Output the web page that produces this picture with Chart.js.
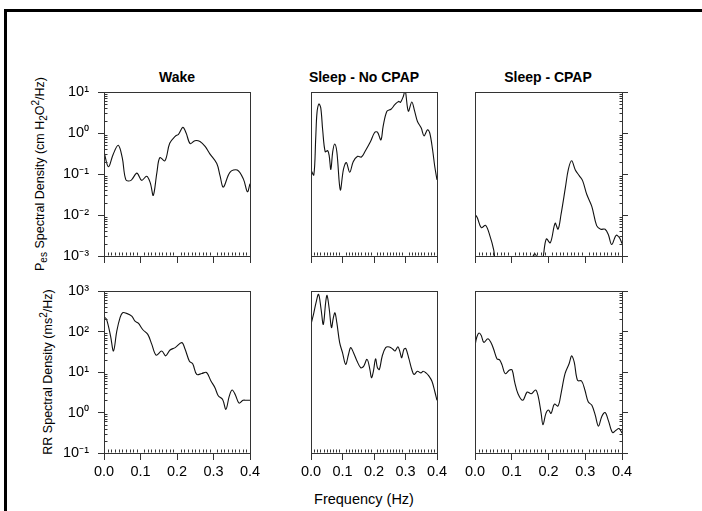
<!DOCTYPE html>
<html><head><meta charset="utf-8">
<script src="https://cdn.jsdelivr.net/npm/chart.js@4.4.1/dist/chart.umd.min.js"></script>
<style>
html,body{margin:0;padding:0;background:#fff;}
body{width:702px;height:511px;position:relative;overflow:hidden;font-family:"Liberation Sans",Arial,sans-serif;color:#000;}
.frame{position:absolute;left:4px;top:9px;width:760px;height:600px;border-top:3px solid #000;border-left:3px solid #000;}
canvas{position:absolute;}
.title{position:absolute;font-weight:bold;font-size:14px;text-align:center;width:220px;line-height:16px;white-space:nowrap;}
.ytitle{position:absolute;font-size:12.5px;white-space:nowrap;line-height:14px;transform:translate(-50%,-50%) rotate(-90deg);}
.ytitle sub{font-size:10px;vertical-align:-3px;line-height:0;}
.ytitle sup{font-size:10px;vertical-align:5px;line-height:0;}
.xtitle{position:absolute;font-size:14.5px;text-align:center;width:200px;line-height:16px;}
</style>
</head><body>
<div class="frame"></div>
<div class="title" style="left:67px;top:69px;">Wake</div>
<div class="title" style="left:254px;top:69px;">Sleep - No CPAP</div>
<div class="title" style="left:438px;top:69px;">Sleep - CPAP</div>
<div class="ytitle" style="left:40px;top:174px;">P<sub>es</sub> Spectral Density (cm H<sub>2</sub>O<sup>2</sup>/Hz)</div>
<div class="ytitle" style="left:48px;top:372px;">RR Spectral Density (ms<sup>2</sup>/Hz)</div>
<div class="xtitle" style="left:264px;top:491px;">Frequency (Hz)</div>
<script>
// ---- data ----
const xTickVals = [0, 0.1, 0.2, 0.3, 0.4];
const xTickLabels = ['0.0', '0.1', '0.2', '0.3', '0.4'];
const pesTickVals = [0.001, 0.01, 0.1, 1, 10];
const pesTickLabels = ['10\u207B\u00B3', '10\u207B\u00B2', '10\u207B\u00B9', '10\u2070', '10\u00B9'];
const rrTickVals = [0.1, 1, 10, 100, 1000];
const rrTickLabels = ['10\u207B\u00B9', '10\u2070', '10\u00B9', '10\u00B2', '10\u00B3'];

const wakePesFreq = [0, 0.012, 0.025, 0.039, 0.05, 0.06, 0.074, 0.09, 0.103, 0.117, 0.127, 0.135, 0.145, 0.153, 0.167, 0.18, 0.195, 0.204, 0.216, 0.225, 0.236, 0.249, 0.263, 0.277, 0.29, 0.309, 0.318, 0.327, 0.345, 0.365, 0.382, 0.393, 0.4];
const wakePesVal = [0.35, 0.15, 0.3, 0.5, 0.25, 0.072, 0.07, 0.105, 0.07, 0.088, 0.06, 0.03, 0.11, 0.25, 0.21, 0.56, 0.83, 0.93, 1.37, 1.0, 0.55, 0.65, 0.62, 0.47, 0.31, 0.18, 0.09, 0.048, 0.11, 0.125, 0.075, 0.037, 0.058];

const noCpapPesFreq = [0, 0.009, 0.015, 0.019, 0.025, 0.031, 0.037, 0.045, 0.053, 0.058, 0.063, 0.069, 0.075, 0.082, 0.093, 0.103, 0.112, 0.123, 0.134, 0.148, 0.16, 0.171, 0.189, 0.202, 0.211, 0.222, 0.229, 0.241, 0.254, 0.266, 0.278, 0.284, 0.293, 0.299, 0.309, 0.32, 0.329, 0.338, 0.35, 0.359, 0.37, 0.377, 0.386, 0.393, 0.4];
const noCpapPesVal = [0.125, 0.095, 0.75, 3.1, 5.1, 4.1, 1.2, 0.35, 0.37, 0.27, 0.13, 0.35, 0.54, 0.35, 0.041, 0.13, 0.19, 0.11, 0.2, 0.27, 0.26, 0.35, 0.62, 1.03, 1.05, 0.68, 1.45, 3.4, 3.8, 4.9, 5.9, 5.6, 7.8, 11, 3.4, 5.7, 3.4, 1.9, 1.32, 0.85, 1.2, 1.0, 0.39, 0.15, 0.072];

const cpapPesFreq = [0, 0.006, 0.017, 0.029, 0.041, 0.051, 0.06, 0.1, 0.14, 0.156, 0.1625, 0.169, 0.177, 0.185, 0.194, 0.205, 0.218, 0.226, 0.234, 0.246, 0.254, 0.263, 0.273, 0.284, 0.293, 0.304, 0.318, 0.331, 0.342, 0.354, 0.363, 0.372, 0.384, 0.393, 0.4];
const cpapPesVal = [0.0104, 0.0087, 0.0049, 0.0056, 0.003, 0.0014, 0.0005, 0.0003, 0.0005, 0.0009, 0.00115, 0.0009, 0.0005, 0.0009, 0.0026, 0.0021, 0.0063, 0.0045, 0.0102, 0.047, 0.13, 0.21, 0.125, 0.09, 0.068, 0.032, 0.016, 0.0055, 0.0045, 0.0045, 0.0033, 0.0019, 0.0032, 0.0028, 0.002];

const wakeRRFreq = [0, 0.007, 0.018, 0.026, 0.035, 0.044, 0.051, 0.062, 0.076, 0.085, 0.094, 0.106, 0.12, 0.131, 0.143, 0.158, 0.169, 0.181, 0.195, 0.213, 0.222, 0.234, 0.243, 0.254, 0.268, 0.281, 0.293, 0.304, 0.313, 0.325, 0.334, 0.343, 0.351, 0.36, 0.37, 0.381, 0.39, 0.4];
const wakeRRVal = [230, 200, 77, 33, 102, 220, 290, 280, 240, 180, 160, 112, 85, 48, 26, 33, 25, 35, 40, 53, 37, 18.5, 16, 8.7, 9.2, 9.7, 6, 4.1, 2.6, 2.1, 1.2, 2.5, 3.6, 2.7, 1.7, 2.0, 2.0, 2.0];

const noCpapRRFreq = [0, 0.009, 0.016, 0.024, 0.032, 0.039, 0.047, 0.051, 0.058, 0.065, 0.071, 0.076, 0.082, 0.091, 0.1, 0.11, 0.119, 0.126, 0.135, 0.146, 0.158, 0.167, 0.178, 0.187, 0.192, 0.198, 0.205, 0.211, 0.217, 0.226, 0.237, 0.249, 0.26, 0.267, 0.276, 0.283, 0.288, 0.295, 0.301, 0.311, 0.32, 0.327, 0.338, 0.349, 0.356, 0.365, 0.374, 0.384, 0.393, 0.4];
const noCpapRRVal = [150, 290, 515, 830, 355, 150, 560, 780, 355, 125, 220, 290, 165, 53, 30, 15.4, 27, 40, 30, 18.7, 12.7, 13.8, 20.5, 11.5, 7.2, 10.4, 21, 12.7, 11.5, 24.5, 40, 41.5, 36.5, 33, 42, 30, 22.5, 36.5, 38, 21, 11.5, 8.7, 10.4, 9.5, 10.4, 9.5, 8, 5.9, 3.3, 2.0];

const cpapRRFreq = [0, 0.005, 0.011, 0.017, 0.024, 0.035, 0.044, 0.051, 0.06, 0.067, 0.074, 0.082, 0.094, 0.101, 0.108, 0.117, 0.13, 0.142, 0.153, 0.165, 0.172, 0.18, 0.185, 0.193, 0.2, 0.207, 0.216, 0.226, 0.234, 0.245, 0.256, 0.263, 0.27, 0.279, 0.29, 0.299, 0.308, 0.318, 0.327, 0.336, 0.345, 0.354, 0.363, 0.374, 0.383, 0.392, 0.4];
const cpapRRVal = [45, 73, 92, 80, 54, 66, 52, 36, 21, 20, 14.6, 9.1, 11.2, 11.2, 5.6, 2.9, 2.0, 3.2, 2.9, 3.6, 2.5, 0.95, 0.5, 0.95, 1.15, 0.95, 1.6, 1.45, 2.9, 9.1, 16, 25, 17.5, 6.2, 6, 3.6, 1.85, 1.5, 0.87, 0.46, 0.8, 1.0, 0.63, 0.32, 0.36, 0.4, 0.31];

// ---- layout ----
Chart.defaults.font.family = '"Liberation Sans", Arial, sans-serif';
Chart.defaults.font.size = 14;
Chart.defaults.color = '#000';
const AXIS = '#333';
const ROWS = {top: {t: 92, b: 256}, bottom: {t: 291, b: 453}};
const COLS = {A: {l: 104, r: 250}, B: {l: 291, r: 437}, C: {l: 475, r: 622}};

function decorPlugin(ySide) {
  return {
    id: 'decor',
    afterDraw(chart) {
      const ctx = chart.ctx, ca = chart.chartArea;
      const xs = chart.scales.x, ys = chart.scales.y;
      const l = Math.round(ca.left) + 0.5, r = Math.round(ca.right) + 0.5;
      const t = Math.round(ca.top) + 0.5, b = Math.round(ca.bottom) + 0.5;
      ctx.save();
      ctx.strokeStyle = AXIS; ctx.lineWidth = 1;
      ctx.strokeRect(l, t, r - l, b - t);
      ctx.beginPath();
      for (let k = 1; k < 40; k++) {
        if (k % 10 === 0) continue;
        const px = Math.round(xs.getPixelForValue(k / 100)) + 0.5;
        ctx.moveTo(px, b - 1); ctx.lineTo(px, b - 4);
      }
      if (ySide) {
        const lo = Math.round(Math.log10(ys.min)), hi = Math.round(Math.log10(ys.max));
        for (let d = lo; d < hi; d++) {
          for (let m = 2; m <= 9; m++) {
            const py = Math.round(ys.getPixelForValue(m * Math.pow(10, d))) + 0.5;
            if (ySide === 'left') { ctx.moveTo(l, py); ctx.lineTo(l + 3, py); }
            else { ctx.moveTo(r, py); ctx.lineTo(r - 3, py); }
          }
        }
      }
      ctx.stroke();
      ctx.restore();
    }
  };
}

function noPad(s) { s.paddingTop = 0; s.paddingBottom = 0; s.paddingLeft = 0; s.paddingRight = 0; }

function makePanel(colKey, rowKey, freq, vals, yTickVals, yTickLabels) {
  const c = COLS[colKey], rw = ROWS[rowKey];
  const L = colKey === 'A' ? 104 : 20, R = 20, T = 12;
  const B = rowKey === 'bottom' ? 40 : 14;
  const w = (c.r - c.l) + L + R, h = (rw.b - rw.t) + T + B;
  const cv = document.createElement('canvas');
  cv.width = w; cv.height = h;
  cv.style.left = (c.l - L) + 'px'; cv.style.top = (rw.t - T) + 'px';
  cv.style.width = w + 'px'; cv.style.height = h + 'px';
  document.body.appendChild(cv);
  const yPos = colKey === 'C' ? 'right' : 'left';
  const yShow = colKey !== 'B';
  new Chart(cv, {
    type: 'line',
    data: {datasets: [{
      data: freq.map((f, i) => ({x: f, y: vals[i]})),
      borderColor: '#111', borderWidth: 1.1, pointRadius: 0, tension: 0.35, fill: false
    }]},
    options: {
      responsive: false, animation: false, devicePixelRatio: 1,
      layout: {padding: {
        left: (yShow && yPos === 'left') ? 0 : L,
        right: (yShow && yPos === 'right') ? 0 : R,
        top: T, bottom: 0}},
      plugins: {legend: {display: false}, tooltip: {enabled: false}},
      scales: {
        x: {
          type: 'linear', min: 0, max: 0.4, position: 'bottom',
          afterBuildTicks: s => { s.ticks = xTickVals.map(v => ({value: v})); },
          afterFit: s => { s.height = B; noPad(s); },
          grid: {drawOnChartArea: false, drawTicks: true, tickLength: 7, color: AXIS, lineWidth: 1},
          border: {display: true, color: AXIS, width: 1},
          ticks: {autoSkip: false, maxRotation: 0, padding: 3, font: {size: 14.5},
            callback: (v, i) => rowKey === 'bottom' ? xTickLabels[i] : ''}
        },
        y: {
          type: 'logarithmic', min: yTickVals[0], max: yTickVals[yTickVals.length - 1],
          position: yPos, display: yShow,
          afterBuildTicks: s => { s.ticks = yTickVals.map(v => ({value: v, major: true})); },
          afterFit: s => { s.width = yPos === 'left' ? L : R; noPad(s); },
          grid: {drawOnChartArea: false, drawTicks: true, tickLength: 6, color: AXIS, lineWidth: 1},
          border: {display: true, color: AXIS, width: 1},
          ticks: {autoSkip: false, padding: 9, font: {size: 14.5},
            callback: (v, i) => colKey === 'A' ? yTickLabels[i] : ''}
        }
      }
    },
    plugins: [decorPlugin(yShow ? yPos : null)]
  });
}

makePanel('A', 'top', wakePesFreq, wakePesVal, pesTickVals, pesTickLabels);
makePanel('B', 'top', noCpapPesFreq, noCpapPesVal, pesTickVals, pesTickLabels);
makePanel('C', 'top', cpapPesFreq, cpapPesVal, pesTickVals, pesTickLabels);
makePanel('A', 'bottom', wakeRRFreq, wakeRRVal, rrTickVals, rrTickLabels);
makePanel('B', 'bottom', noCpapRRFreq, noCpapRRVal, rrTickVals, rrTickLabels);
makePanel('C', 'bottom', cpapRRFreq, cpapRRVal, rrTickVals, rrTickLabels);
</script>
</body></html>
